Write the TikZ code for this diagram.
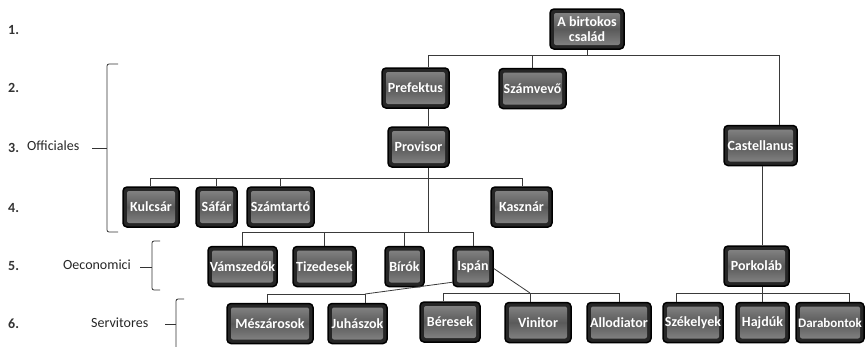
\documentclass[tikz,border=0pt]{standalone}
\usepackage{fontspec}
\setmainfont{Carlito}
\definecolor{boxdark}{HTML}{262626}
\definecolor{boxlight}{HTML}{8A8A8A}
\definecolor{boxmid}{HTML}{5A5A5A}
\definecolor{linecol}{HTML}{3A3A3A}
\tikzset{
  box/.style={rounded corners=4pt, draw=black, line width=1.5pt, fill=boxdark,
    text=white, inner sep=0pt, minimum height=40pt, align=center,
    font=\fontsize{14}{14.5}\selectfont\bfseries,
    path picture={\fill[top color=boxlight, bottom color=boxlight, middle color=boxmid, rounded corners=2pt]
      ([shift={(4pt,-4pt)}]path picture bounding box.north west) rectangle
      ([shift={(-4pt,4pt)}]path picture bounding box.south east);}},
  conn/.style={draw=linecol, line width=0.8pt},
  lab/.style={anchor=west, inner sep=0pt, font=\fontsize{14}{16}\selectfont, text=black!85},
  num/.style={anchor=west, inner sep=0pt, font=\fontsize{14}{16}\selectfont\bfseries, text=black!80},
  brk/.style={draw=black!80, line width=0.8pt, rounded corners=2pt}
}
\begin{document}
\begin{tikzpicture}[x=1pt,y=-1pt]
\useasboundingbox (0,0) rectangle (866,346);

% left numbering and labels
\node[num] (n1) at (8,30) {1.};
\node[num] (n2) at (8,88) {2.};
\node[num] (n3) at (8,148) {3.};
\node[num] (n4) at (8,208) {4.};
\node[num] (n5) at (8,266) {5.};
\node[num] (n6) at (8,324) {6.};
\node[lab] (off) at (27,146) {Officiales};
\node[lab] (oec) at (63,265) {Oeconomici};
\node[lab] (serv) at (91,323) {Servitores};

% brackets
\draw[brk] (118,64) -- (107,64) -- (107,232) -- (118,232);
\draw[brk] (92,148) -- (107,148);
\draw[brk] (160,241) -- (152,241) -- (152,290) -- (160,290);
\draw[brk] (140,267) -- (152,267);
\draw[brk] (184,299) -- (176,299) -- (176,350);
\draw[brk] (165,324) -- (176,324);

% nodes
\node[box, minimum width=74pt] (fam) at (587,29) {A birtokos\\család};
\node[box, minimum width=67pt] (pref) at (415.5,88) {Prefektus};
\node[box, minimum width=67pt] (szamv) at (532.5,88.5) {Számvevő};
\node[box, minimum width=73pt] (cast) at (760.5,145.5) {Castellanus};
\node[box, minimum width=61pt] (prov) at (418.5,147) {Provisor};
\node[box, minimum width=56pt] (kulcs) at (151,207) {Kulcsár};
\node[box, minimum width=41pt] (safar) at (216.5,207) {Sáfár};
\node[box, minimum width=67pt] (szamt) at (280.5,207) {Számtartó};
\node[box, minimum width=61pt] (kaszn) at (521.5,207) {Kasznár};
\node[box, minimum width=69pt] (vams) at (242.5,266.5) {Vámszedők};
\node[box, minimum width=63pt] (tized) at (324.5,266.5) {Tizedesek};
\node[box, minimum width=39pt] (birok) at (404.5,266.5) {Bírók};
\node[box, minimum width=40pt] (ispan) at (473,266.5) {Ispán};
\node[box, minimum width=65pt] (pork) at (756.5,266) {Porkoláb};
\node[box, minimum width=86pt] (mesz) at (270,323.5) {Mészárosok};
\node[box, minimum width=59pt] (juh) at (357.5,323.5) {Juhászok};
\node[box, minimum width=60pt] (beres) at (450,322) {Béresek};
\node[box, minimum width=66pt] (vinit) at (538,322.5) {Vinitor};
\node[box, minimum width=64pt] (allod) at (619,322.5) {Allodiator};
\node[box, minimum width=60pt] (szek) at (693,322.5) {Székelyek};
\node[box, minimum width=53pt] (hajd) at (762.5,322.5) {Hajdúk};
\node[box, minimum width=68pt, font=\fontsize{13}{14}\selectfont\bfseries] (darab) at (830,322.5) {Darabontok};

% bus coordinates
\coordinate (b1L) at (428,55);
\coordinate (b1R) at (779,55);
\coordinate (b4L) at (150,178);
\coordinate (b4R) at (522,178);
\coordinate (b5L) at (242,232);
\coordinate (b5R) at (473,232);
\coordinate (b6L) at (267,294);
\coordinate (b6M) at (365,294);
\coordinate (b6aL) at (443,293);
\coordinate (b6aM) at (530,293);
\coordinate (b6aR) at (619,293);
\coordinate (b6bL) at (676,293);
\coordinate (b6bM) at (762,293);
\coordinate (b6bR) at (849,293);

% level 1 -> 2
\draw[conn] (fam.south) -- (fam.south |- b1L);
\draw[conn] (b1L) -- (b1R);
\draw[conn] (b1L) -- (b1L |- pref.north);
\draw[conn] (szamv.north) -- (szamv.north |- b1L);
\draw[conn] (b1R) -- (b1R |- cast.north);
% prefektus -> provisor
\draw[conn] (b1L |- pref.south) -- (b1L |- prov.north);
% provisor -> level 4 and 5
\draw[conn] (b1L |- prov.south) -- (b1L |- b5L);
\draw[conn] (b4L) -- (b4R);
\draw[conn] (b4L) -- (b4L |- kulcs.north);
\draw[conn] (safar.north) -- (safar.north |- b4L);
\draw[conn] (szamt.north) -- (szamt.north |- b4L);
\draw[conn] (b4R) -- (b4R |- kaszn.north);
\draw[conn] (b5L) -- (b5R);
\draw[conn] (b5L) -- (b5L |- vams.north);
\draw[conn] (tized.north) -- (tized.north |- b5L);
\draw[conn] (birok.north) -- (birok.north |- b5L);
\draw[conn] (b5R) -- (b5R |- ispan.north);
% castellanus -> porkolab
\draw[conn] (b6bM |- cast.south) -- (b6bM |- pork.north);
% ispan -> servitores
\draw[conn] ([yshift=5pt]ispan.south west) -- (b6M);
\draw[conn] (b6L) -- (b6M);
\draw[conn] (b6L) -- (b6L |- mesz.north);
\draw[conn] (b6M) -- (b6M |- juh.north);
\draw[conn] ([yshift=-2pt]ispan.east) -- (b6aM);
\draw[conn] (b6aL) -- (b6aR);
\draw[conn] (b6aL) -- (b6aL |- beres.north);
\draw[conn] (b6aM) -- (b6aM |- vinit.north);
\draw[conn] (b6aR) -- (b6aR |- allod.north);
% porkolab -> level 6
\draw[conn] (b6bM |- pork.south) -- (b6bM);
\draw[conn] (b6bL) -- (b6bR);
\draw[conn] (b6bL) -- (b6bL |- szek.north);
\draw[conn] (b6bM) -- (b6bM |- hajd.north);
\draw[conn] (b6bR) -- (b6bR |- darab.north);
\end{tikzpicture}
\end{document}
